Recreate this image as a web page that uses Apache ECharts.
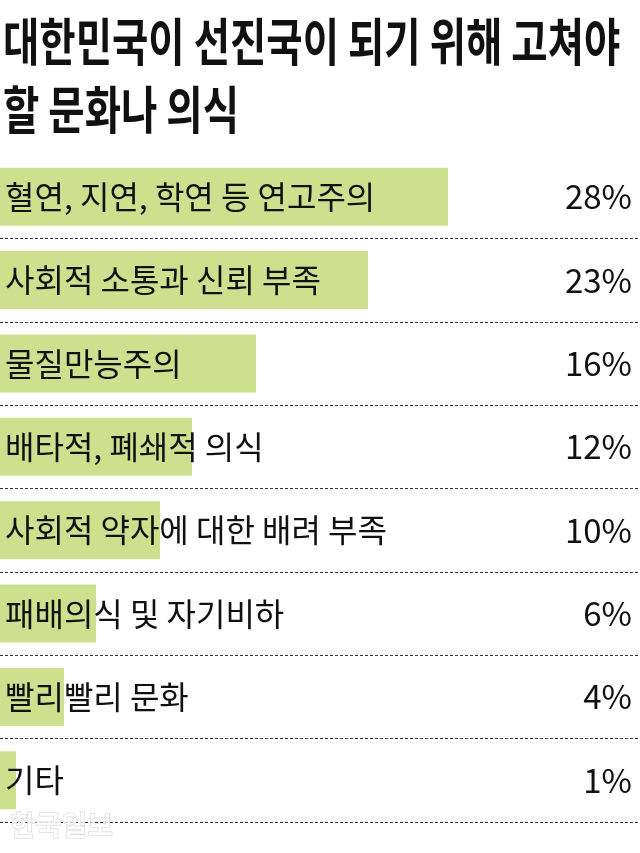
<!DOCTYPE html>
<html><head><meta charset="utf-8">
<script src="https://cdn.jsdelivr.net/npm/echarts@6/dist/echarts.min.js"></script>
<style>html,body{margin:0;padding:0;background:#fff}#c{width:640px;height:853px}</style>
</head><body><div id="c"></div>
<script>
const titleLines = ['대한민국이 선진국이 되기 위해 고쳐야', '할 문화나 의식'];
const categories = ['혈연, 지연, 학연 등 연고주의', '사회적 소통과 신뢰 부족', '물질만능주의', '배타적, 폐쇄적 의식', '사회적 약자에 대한 배려 부족', '패배의식 및 자기비하', '빨리빨리 문화', '기타'];
const values = [28, 23, 16, 12, 10, 6, 4, 1];
const valueLabels = values.map(v => v + '%');
const watermark = '한국일보';

const FONT = '"Noto Sans CJK KR", "Noto Sans", sans-serif';
const chart = echarts.init(document.getElementById('c'));
chart.setOption({
  backgroundColor: '#ffffff',
  animation: false,
  graphic: [
    { type: 'text', x: 3, y: 8, scaleY: 1.3,
      style: { text: titleLines.join('\n'), fontSize: 39.5, fontWeight: 'bold', fontFamily: FONT, fill: '#111111', lineHeight: 52 } },
    { type: 'text', x: 10, y: 811, z: 100,
      style: { text: watermark, fontSize: 28, fontWeight: 'bold', fontFamily: FONT, fill: 'rgba(255,255,255,0.7)', stroke: '#d6d6d6', lineWidth: 1 } }
  ],
  grid: { left: 0, right: 0, top: 155, height: 667 },
  xAxis: { type: 'value', min: 0, max: 40, show: false },
  yAxis: [
    { type: 'category', inverse: true, data: categories,
      axisLabel: { show: false }, axisLine: { show: false }, axisTick: { show: false },
      splitLine: { show: true, showMinLine: false, showMaxLine: true, lineStyle: { type: [3, 2], color: '#333333', width: 1 } } },
    { type: 'category', inverse: true, position: 'right', data: valueLabels,
      axisLine: { show: false }, axisTick: { show: false }, splitLine: { show: false },
      axisLabel: { inside: true, margin: 8, fontSize: 33, color: '#111111', fontFamily: FONT } }
  ],
  series: [{
    type: 'bar', data: values, yAxisIndex: 0, barWidth: 58,
    itemStyle: { color: '#cee08e' },
    label: { show: true, position: 'insideLeft', distance: 5, formatter: p => categories[p.dataIndex],
      fontSize: 32, color: '#111111', fontFamily: FONT }
  }]
});
</script></body></html>
